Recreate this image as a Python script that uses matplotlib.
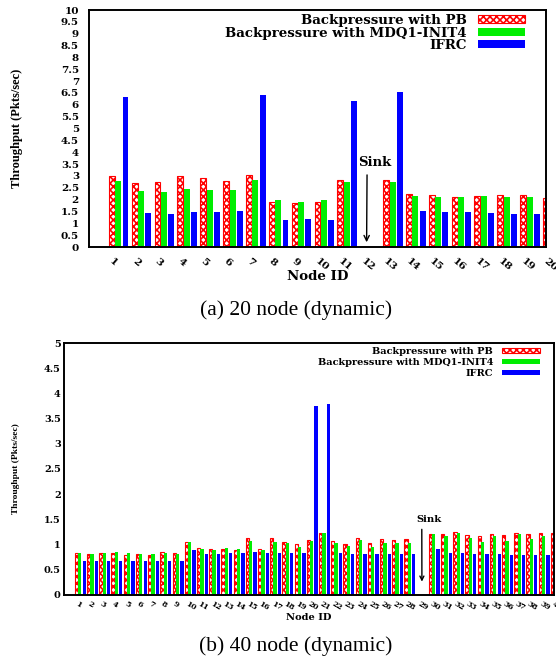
import numpy as np
import matplotlib
matplotlib.use('Agg')
import matplotlib.pyplot as plt

# ------------------------------------------------------------------
# data (throughput in Pkts/sec)
# ------------------------------------------------------------------
series = ['Backpressure with PB', 'Backpressure with MDQ1-INIT4', 'IFRC']

nodes_20 = list(range(1, 21))
pb_20 = [3.00, 2.70, 2.74, 3.00, 2.91, 2.80, 3.04, 1.90, 1.87, 1.90,
         2.81, 0.00, 2.83, 2.22, 2.19, 2.11, 2.15, 2.19, 2.19, 2.08]
mdq_20 = [2.80, 2.36, 2.33, 2.45, 2.39, 2.39, 2.83, 1.97, 1.91, 1.98,
          2.74, 0.00, 2.74, 2.15, 2.12, 2.11, 2.15, 2.12, 2.12, 2.10]
ifrc_20 = [6.34, 1.45, 1.39, 1.46, 1.49, 1.50, 6.43, 1.14, 1.20, 1.15,
           6.17, 0.00, 6.54, 1.50, 1.49, 1.46, 1.45, 1.41, 1.41, 1.40]

nodes_40 = list(range(1, 41))
pb_40 = [0.82, 0.81, 0.83, 0.83, 0.79, 0.81, 0.79, 0.84, 0.82, 1.05,
         0.92, 0.90, 0.90, 0.89, 1.13, 0.91, 1.12, 1.04, 1.00, 1.09,
         1.23, 1.06, 1.01, 1.13, 1.03, 1.10, 1.08, 1.10, 0.00, 1.21,
         1.20, 1.24, 1.18, 1.17, 1.20, 1.19, 1.22, 1.20, 1.22, 1.22]
mdq_40 = [0.82, 0.81, 0.83, 0.85, 0.82, 0.81, 0.81, 0.83, 0.81, 1.05,
          0.90, 0.89, 0.92, 0.90, 1.07, 0.88, 1.05, 1.02, 0.94, 1.06,
          1.23, 1.02, 0.97, 1.09, 0.94, 1.03, 1.03, 1.03, 0.00, 1.21,
          1.17, 1.23, 1.13, 1.05, 1.17, 1.07, 1.21, 1.11, 1.17, 1.15]
ifrc_40 = [0.68, 0.67, 0.68, 0.68, 0.68, 0.68, 0.68, 0.68, 0.68, 0.89,
           0.81, 0.81, 0.83, 0.83, 0.85, 0.83, 0.83, 0.83, 0.83, 3.75,
           3.79, 0.83, 0.81, 0.81, 0.81, 0.81, 0.81, 0.81, 0.00, 0.91,
           0.83, 0.83, 0.81, 0.81, 0.81, 0.79, 0.79, 0.79, 0.79, 0.80]

sink_20 = 12
sink_40 = 29

# ------------------------------------------------------------------
# style
# ------------------------------------------------------------------
gp_font = 'DejaVu Serif'          # stand-in for the stretched gnuplot Times-Bold
plt.rcParams['hatch.linewidth'] = 1.2
plt.rcParams['axes.linewidth'] = 1.4

fig = plt.figure(figsize=(5.56, 6.58), dpi=100)


def draw_panel(ax, nodes, pb, mdq, ifrc, sink, xmax, ymax, width, offs, fs):
    x = np.array(nodes, dtype=float)
    b1 = ax.bar(x + offs[0], pb, width, facecolor='white', edgecolor='#ff0000',
                hatch='xxxxx', linewidth=0.8, label=series[0])
    b2 = ax.bar(x + offs[1], mdq, width, color='#00ee00', linewidth=0, label=series[1])
    b3 = ax.bar(x + offs[2], ifrc, width, color='#0000ff', linewidth=0, label=series[2])

    ax.set_xlim(0, xmax)
    ax.set_ylim(0, ymax)
    yt = np.arange(0, ymax + 0.01, 0.5)
    ax.set_yticks(yt)
    ax.set_yticklabels([f'{v:g}' for v in yt],
                       fontfamily=gp_font, fontweight='bold', fontsize=fs['ytick'])
    ax.set_xticks(x - 0.18)
    ax.set_xticklabels([str(n) for n in nodes], fontfamily=gp_font, fontweight='bold',
                       fontsize=fs['xtick'], rotation=fs['rot'], ha='left', va='top')
    ax.tick_params(axis='x', length=0, pad=fs['xpad'])
    ax.tick_params(axis='y', length=0, pad=fs['ypad'])

    ax.set_xlabel('Node ID', fontfamily=gp_font, fontweight='bold',
                  fontsize=fs['xlabel'], labelpad=fs['xlpad'])
    ax.set_ylabel('Throughput (Pkts/sec)', fontfamily='Liberation Serif', fontweight='bold',
                  fontsize=fs['ylabel'], labelpad=fs['ylpad'])

    # sink marker
    ax.annotate('Sink', xy=(sink + fs['arr_dx'], fs['arr_tip']),
                xytext=(sink + fs['txt_dx'], fs['txt_y']),
                ha='center', va='center', fontfamily=gp_font, fontweight='bold',
                fontsize=fs['sink'],
                arrowprops=dict(arrowstyle='->', color='black', lw=1.0,
                                relpos=(fs['relpos'], 0), shrinkA=2, shrinkB=0))

    leg = ax.legend(handles=[b1, b2, b3], loc='upper right', bbox_to_anchor=fs['leg_anchor'],
                    frameon=False, markerfirst=False, borderpad=0, borderaxespad=0,
                    handlelength=fs['hl'], handleheight=fs['hh'], handletextpad=fs['htp'],
                    labelspacing=fs['ls'],
                    prop={'family': gp_font, 'weight': 'bold', 'size': fs['legend']})
    for t in leg.get_texts():
        t.set_ha('right')
    return leg


# top panel: 20 nodes
ax1 = fig.add_axes([0.160, 0.6246, 0.822, 0.3602])
draw_panel(ax1, nodes_20, pb_20, mdq_20, ifrc_20, sink_20, 20, 10, 0.26,
           (0.0, 0.285, 0.6),
           dict(ytick=7.5, xtick=7.5, rot=-40, xpad=7, ypad=7.2, xlabel=9.6, xlpad=-2,
                ylabel=9, ylpad=27, sink=9.5, arr_dx=0.15, arr_tip=0.2, txt_dx=0.52,
                txt_y=3.55, relpos=0.26, leg_anchor=(0.954, 0.9835), hl=3.55, hh=0.52,
                htp=0.8, ls=-0.03, legend=9.6))

# bottom panel: 40 nodes
ax2 = fig.add_axes([0.1157, 0.0962, 0.8802, 0.3821])
draw_panel(ax2, nodes_40, pb_40, mdq_40, ifrc_40, sink_40, 40.1, 5, 0.27,
           (0.0, 0.27, 0.63),
           dict(ytick=7, xtick=5.5, rot=-30, xpad=4, ypad=2.6, xlabel=7.1, xlpad=0,
                ylabel=6.8, ylpad=17, sink=7.2, arr_dx=0.3, arr_tip=0.26, txt_dx=0.91,
                txt_y=1.5, relpos=0.2, leg_anchor=(0.971, 0.985), hl=3.9, hh=0.5,
                htp=0.87, ls=0.2, legend=7))

# captions
fig.text(296 / 556, 1 - 310 / 658, '(a) 20 node (dynamic)', ha='center', va='center',
         fontfamily='Liberation Serif', fontsize=15.5)
fig.text(296 / 556, 1 - 645.7 / 658, '(b) 40 node (dynamic)', ha='center', va='center',
         fontfamily='Liberation Serif', fontsize=15.5)

fig.savefig('out.png', dpi=100)
